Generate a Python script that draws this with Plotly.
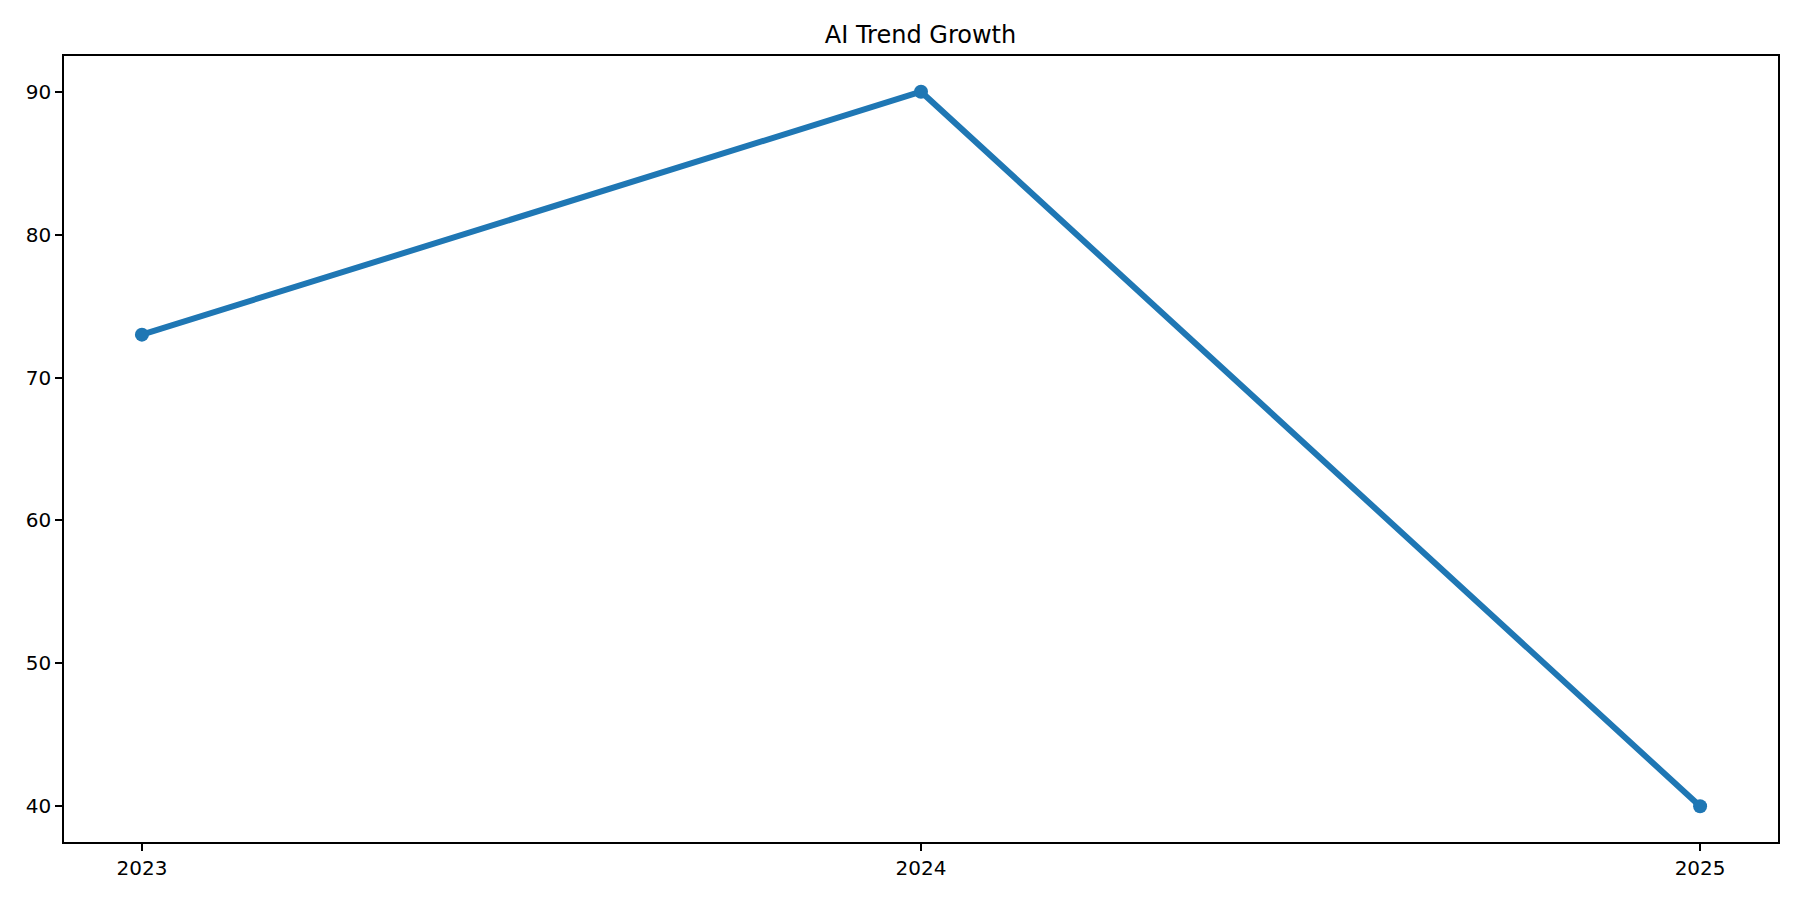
import plotly.graph_objects as go

years = [2023, 2024, 2025]
values = [73, 90, 40]
tick_labels = ["2023", "2024", "2025"]
y_ticks = [40, 50, 60, 70, 80, 90]

# the page body adds an 8px offset, so the figure is sized to fit the window
W, H = 1784, 884

fig = go.Figure()
fig.add_trace(go.Scatter(
    x=years, y=values, mode="lines+markers",
    line=dict(color="#1f77b4", width=6),
    marker=dict(color="#1f77b4", size=14),
    showlegend=False,
))

axis_common = dict(
    showline=True, mirror=True, linecolor="black", linewidth=1.6,
    ticks="outside", ticklen=7, tickwidth=1.6, tickcolor="black",
    showgrid=False, zeroline=False,
    tickfont=dict(family="DejaVu Sans", size=20, color="black"),
)

fig.update_layout(
    width=W, height=H,
    paper_bgcolor="white", plot_bgcolor="white",
    margin=dict(l=55.5, r=14, t=47.5, b=50.3),
    title=dict(text="AI Trend Growth", x=(920.5 - 8) / W, xanchor="center",
               y=(H - 35) / H, yref="container", yanchor="bottom",
               font=dict(family="DejaVu Sans", size=24, color="black")),
    xaxis=dict(range=[2022.9, 2025.1], tickvals=years, ticktext=tick_labels, **axis_common),
    yaxis=dict(range=[37.5, 92.5], tickvals=y_ticks, **axis_common),
)

fig.write_html("out.html")
